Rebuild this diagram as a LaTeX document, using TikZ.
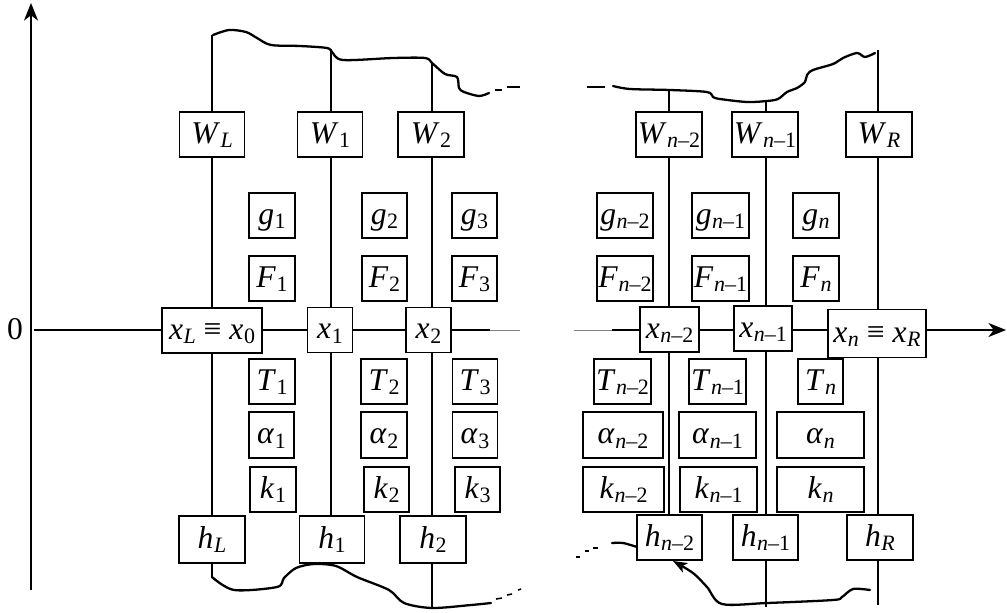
\documentclass[tikz,border=0pt]{standalone}
\usepackage{fontspec}
\setmainfont{Liberation Serif}[ItalicFont={Liberation Serif Italic}]
\newfontfamily\tms{Liberation Serif}[ItalicFont={Liberation Serif Italic}]
\usetikzlibrary{arrows.meta}
\newcommand{\lsub}[1]{\kern0.3pt\raisebox{-2.6pt}{\fontsize{12.5}{12.5}\selectfont #1}}
\newcommand{\vv}[2]{\textit{#1}\lsub{#2}}
\newcommand{\nn}[1]{\textit{n}–#1}
\begin{document}
\begin{tikzpicture}[x=0.02cm,y=-0.02cm,
  bx/.style={draw, line width=0.9pt, minimum width=#1*0.02cm, minimum height=0.9cm,
    inner sep=0pt, text height=12pt, text depth=2pt, font=\tms\fontsize{18}{20}\selectfont},
  ln/.style={line width=0.9pt},
  thin gray/.style={line width=0.5pt, gray},
  wave/.style={line width=1.3pt, line cap=round, line join=round},
  tip/.style={-{Stealth[length=10pt,width=8pt,inset=3pt]}}]
\useasboundingbox (0,0) rectangle (1007,612);

% W row
\node[bx=65] (WL) at (212,134.5) {\vv{W}{\textit{L}}};
\node[bx=65] (W1) at (330,134.5) {\vv{W}{1}};
\node[bx=66] (W2) at (431,134.5) {\vv{W}{2}};
\node[bx=66] (Wn2) at (669,134.5) {\vv{W}{\nn{2}}};
\node[bx=66] (Wn1) at (765,134.5) {\vv{W}{\nn{1}}};
\node[bx=66] (WR) at (879,134.5) {\vv{W}{\textit{R}}};
% g row
\node[bx=46] (g1) at (272,215.5) {\vv{g}{1}};
\node[bx=45] (g2) at (384.5,215.5) {\vv{g}{2}};
\node[bx=45] (g3) at (474.5,215.5) {\vv{g}{3}};
\node[bx=56] (gn2) at (625,215.5) {\vv{g}{\nn{2}}};
\node[bx=57] (gn1) at (720.5,215.5) {\vv{g}{\nn{1}}};
\node[bx=46] (gn) at (816,215.5) {\vv{g}{\textit{n}}};
% F row
\node[bx=46] (F1) at (272,278.5) {\vv{F}{1}};
\node[bx=45] (F2) at (384.5,278.5) {\vv{F}{2}};
\node[bx=45] (F3) at (474.5,278.5) {\vv{F}{3}};
\node[bx=56] (Fn2) at (625,278.5) {\vv{F}{\nn{2}}};
\node[bx=57] (Fn1) at (720.5,278.5) {\vv{F}{\nn{1}}};
\node[bx=46] (Fn) at (816,278.5) {\vv{F}{\textit{n}}};
% x row
\node[bx=100] (xL) at (212,330.5) {\textit{x}\lsub{\textit{L}} ≡ \textit{x}\lsub{0}};
\node[bx=45] (x1) at (330,330) {\vv{x}{1}};
\node[bx=45] (x2) at (428.5,330) {\vv{x}{2}};
\node[bx=59] (xn2) at (669.5,329.5) {\vv{x}{\nn{2}}};
\node[bx=58] (xn1) at (763,328.5) {\vv{x}{\nn{1}}};
\node[bx=98, minimum height=0.96cm] (xn) at (877,333.5) {\textit{x}\lsub{\textit{n}} ≡ \textit{x}\lsub{\textit{R}}};
% T row
\node[bx=46] (T1) at (272,381.5) {\vv{T}{1}};
\node[bx=46] (T2) at (384,381.5) {\vv{T}{2}};
\node[bx=45] (T3) at (475,381.5) {\vv{T}{3}};
\node[bx=57] (Tn2) at (622.5,381.5) {\vv{T}{\nn{2}}};
\node[bx=57] (Tn1) at (717.5,381.5) {\vv{T}{\nn{1}}};
\node[bx=45] (Tn) at (820.5,381.5) {\vv{T}{\textit{n}}};
% alpha row
\node[bx=45, minimum height=0.92cm] (a1) at (271.5,435) {\vv{α}{1}};
\node[bx=46, minimum height=0.92cm] (a2) at (384,435) {\vv{α}{2}};
\node[bx=45, minimum height=0.92cm] (a3) at (475,435) {\vv{α}{3}};
\node[bx=80, minimum height=0.92cm] (an2) at (623,435) {\vv{α}{\nn{2}}};
\node[bx=77, minimum height=0.92cm] (an1) at (717.5,435) {\vv{α}{\nn{1}}};
\node[bx=87, minimum height=0.92cm] (an) at (820.5,435) {\vv{α}{\textit{n}}};
% k row
\node[bx=46] (k1) at (273,489.5) {\vv{k}{1}};
\node[bx=45] (k2) at (386.5,489.5) {\vv{k}{2}};
\node[bx=45] (k3) at (477.5,489.5) {\vv{k}{3}};
\node[bx=81] (kn2) at (623.5,489.5) {\vv{k}{\nn{2}}};
\node[bx=77] (kn1) at (718.5,489.5) {\vv{k}{\nn{1}}};
\node[bx=87] (kn) at (820.5,489.5) {\vv{k}{\textit{n}}};
% h row
\node[bx=66, minimum height=0.94cm] (hL) at (212,539.5) {\vv{h}{\textit{L}}};
\node[bx=65, minimum height=0.94cm] (h1) at (332,539.5) {\vv{h}{1}};
\node[bx=66, minimum height=0.94cm] (h2) at (433,539.5) {\vv{h}{2}};
\node[bx=65] (hn2) at (669.5,537.5) {\vv{h}{\nn{2}}};
\node[bx=65] (hn1) at (765.5,537.5) {\vv{h}{\nn{1}}};
\node[bx=66] (hR) at (880,537.5) {\vv{h}{\textit{R}}};

% vertical lines
\coordinate (tL) at (212,35);  \coordinate (bL) at (212,577);
\coordinate (t1) at (331,49);  \coordinate (b1) at (331,566);
\coordinate (t2) at (432,62);  \coordinate (b2) at (432,608);
\coordinate (tn2) at (669,90);
\coordinate (tn1) at (766,100); \coordinate (bn1) at (766,607);
\coordinate (tR) at (878,50);  \coordinate (bR) at (878,605);

\draw[ln] (tL) -- (tL |- WL.north) (tL |- WL.south) -- (tL |- xL.north)
          (tL |- xL.south) -- (tL |- hL.north) (tL |- hL.south) -- (bL);
\draw[ln] (t1) -- (t1 |- W1.north) (t1 |- W1.south) -- (t1 |- x1.north)
          (t1 |- x1.south) -- (t1 |- h1.north) (t1 |- h1.south) -- (b1);
\draw[ln] (t2) -- (t2 |- W2.north) (t2 |- W2.south) -- (t2 |- x2.north)
          (t2 |- x2.south) -- (t2 |- h2.north) (t2 |- h2.south) -- (b2);
\draw[ln] (tn2) -- (tn2 |- Wn2.north) (tn2 |- Wn2.south) -- (tn2 |- xn2.north)
          (tn2 |- xn2.south) -- (tn2 |- hn2.north);
\draw[ln] (tn1) -- (tn1 |- Wn1.north) (tn1 |- Wn1.south) -- (tn1 |- xn1.north)
          (tn1 |- xn1.south) -- (tn1 |- hn1.north) (tn1 |- hn1.south) -- (bn1);
\draw[ln] (tR) -- (tR |- WR.north) (tR |- WR.south) -- (tR |- xn.north)
          (tR |- xn.south) -- (tR |- hR.north) (tR |- hR.south) -- (bR);

% axes
\coordinate (ybot) at (31,590); \coordinate (ytop) at (31,3);
\draw[ln,tip] (ybot) -- (ytop);
\node[font=\tms\fontsize{18}{20}\selectfont] (zero) at (15,329) {0};
\coordinate (ax0) at (34,330);
\coordinate (gapL0) at (490,330); \coordinate (gapL1) at (520,330);
\coordinate (gapR0) at (574,330); \coordinate (gapR1) at (612,330);
\coordinate (axend) at (1006,330);
\draw[ln] (ax0) -- (ax0 -| xL.west);
\draw[ln] (xL.east |- ax0) -- (x1.west |- ax0);
\draw[ln] (x1.east |- ax0) -- (x2.west |- ax0);
\draw[ln] (x2.east |- ax0) -- (gapL0);
\draw[thin gray] (gapL0) -- (gapL1);
\draw[thin gray] (gapR0) -- (gapR1);
\draw[ln] (gapR1) -- (xn2.west |- ax0);
\draw[ln] (xn2.east |- ax0) -- (xn1.west |- ax0);
\draw[ln] (xn1.east |- ax0) -- (xn.west |- ax0);
\draw[ln,tip] (xn.east |- ax0) -- (axend);

% wavy break lines
\draw[wave] plot[smooth, tension=0.5] coordinates {(213,35) (229,30) (246,32) (257,38) (271,45) (300,46) (327,48) (332,52) (343,60) (393,58) (425,58) (432,63) (445,74) (457,77) (459,88) (464,92) (479,96) (489,93)};
\draw[ln] (495,90) -- (502,90) (507,87) -- (520,87);

\draw[ln] (587,87) -- (605,87);
\draw[wave] plot[smooth, tension=0.5] coordinates {(613,86) (630,89) (670,90) (707,92) (713,97) (720,99) (747,102) (767,101) (778,99) (787,92) (797,88) (805,82) (807,75) (813,70) (833,64) (843,58) (857,53) (865,57) (875,53)};

\draw[wave] plot[smooth, tension=0.5] coordinates {(212,577) (234,590) (277,587) (284,578) (296,568) (314,564) (336,566) (357,577) (389,590) (404,603) (432,608) (471,605) (491,603)};
\draw[ln] (496,599) -- (502,598) (507,595) -- (512,594) (518,590) -- (521,589);

\draw[ln] (576,557) -- (580,557) (585,551) -- (589,551) (593,548) -- (598,548);
\draw[wave] plot[smooth, tension=0.5] coordinates {(612,543) (623,543) (637,547)};
\coordinate (arrS) at (870,590);
\coordinate (arrE) at (673,561);
\draw[wave, -{Stealth[length=8pt,width=6pt,inset=2pt]}] plot[smooth, tension=0.5] coordinates {(arrS) (853,589) (842,597) (833,600) (767,603) (722,604) (707,587) (693,573) (arrE)};
\end{tikzpicture}
\end{document}
